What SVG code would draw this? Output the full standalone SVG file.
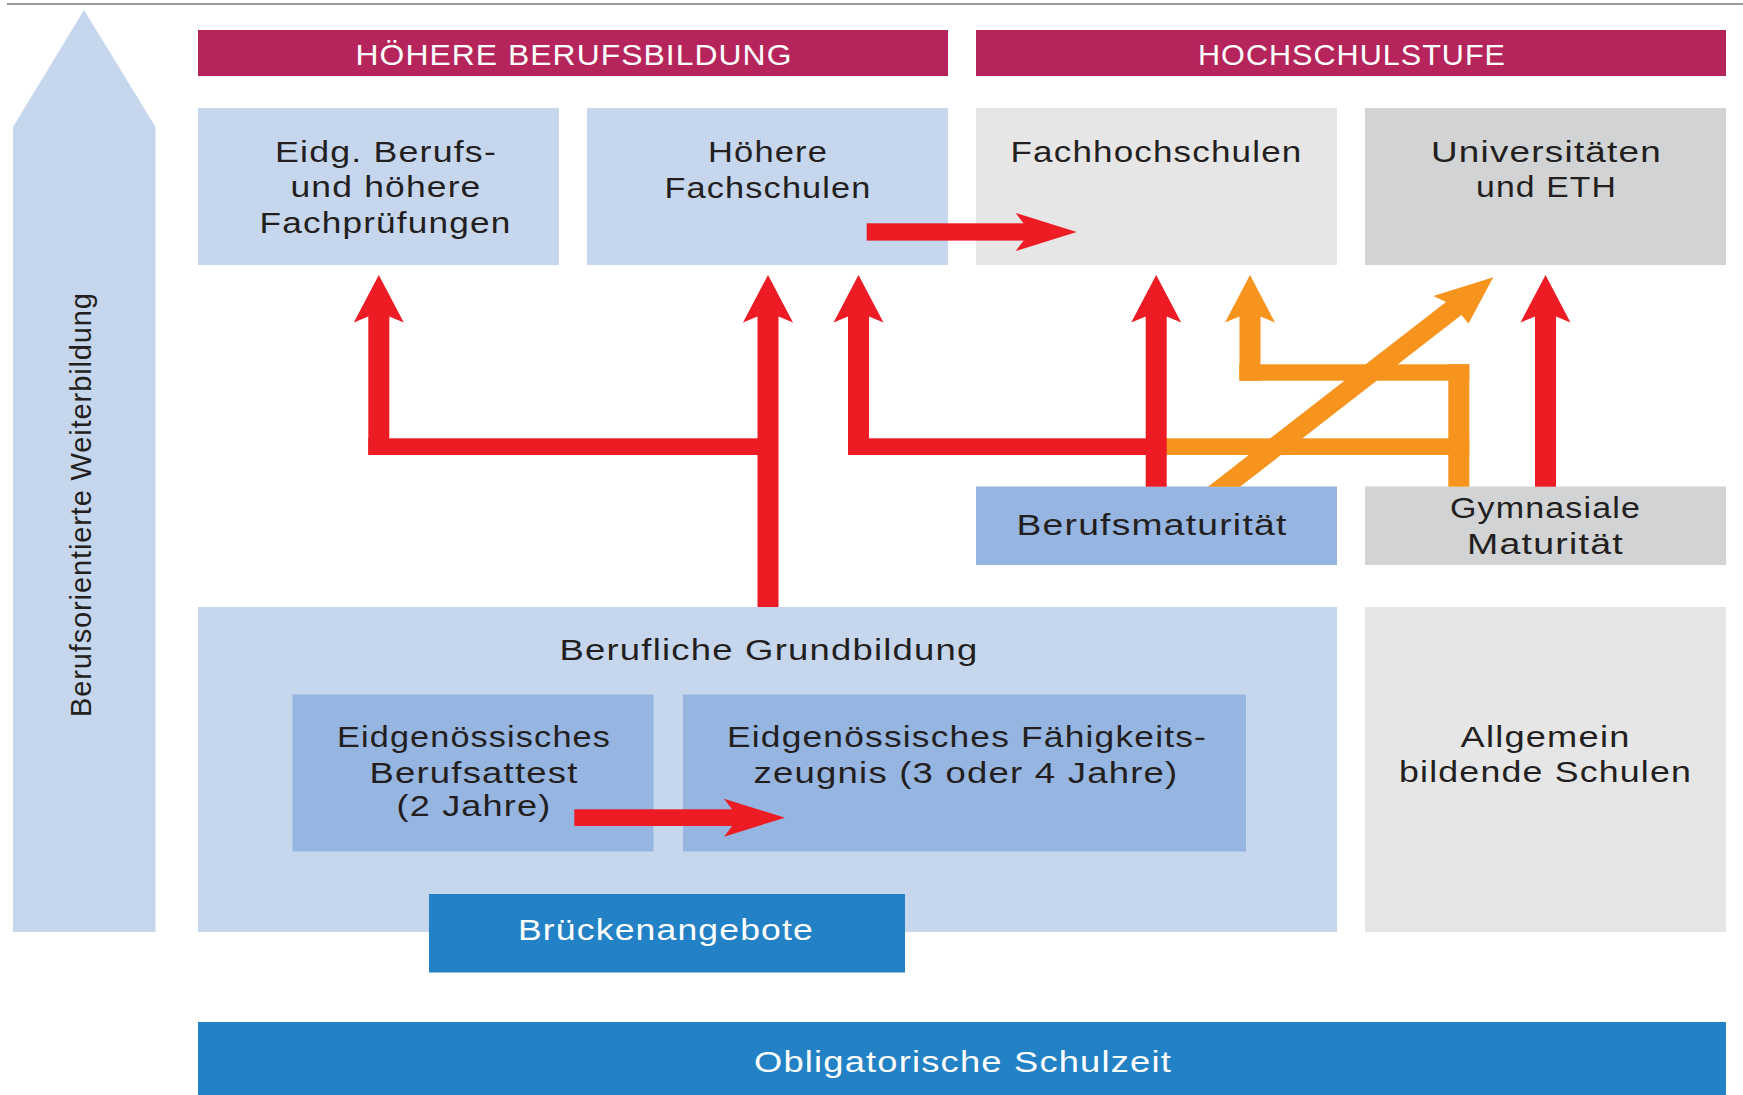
<svg xmlns="http://www.w3.org/2000/svg" xmlns:xlink="http://www.w3.org/1999/xlink" width="1743" height="1095" viewBox="0 0 1743 1095">
<style>
  .t { font-family: "Liberation Sans", Arial, sans-serif; font-size: 30px; fill: #231F20; text-anchor: middle; letter-spacing: 1px; }
  .w { fill: #FFFFFF; }
  .lb { fill: #C6D6EC; }
  .mb { fill: #96B5E0; }
  .db { fill: #2382C5; }
  .mg { fill: #B5255B; }
  .g1 { fill: #E6E6E7; }
  .g2 { fill: #D1D3D4; }
  .red { fill: #ED1C24; }
  .org { fill: #F7941E; }
</style>
<defs>
  <path id="hu" d="M0,0 L25,47.5 L10.5,41.5 L-10.5,41.5 L-25,47.5 Z"/>
  <path id="hr" d="M0,0 L-61,-19 L-53,-8.5 L-53,8.5 L-61,19 Z"/>
</defs>
<rect width="1743" height="1095" fill="#FFFFFF"/>
<line x1="7" y1="4" x2="1743" y2="4" stroke="#9A9A9A" stroke-width="2"/>

<g id="weiterbildung">
  <polygon class="lb" points="84,10 155.5,127 155.5,932 13,932 13,127"/>
  <text class="t" style="font-size:29px;letter-spacing:0" transform="translate(91,505) rotate(-90)" x="0" y="0" textLength="424" lengthAdjust="spacing">Berufsorientierte Weiterbildung</text>
</g>

<g id="hdr-hbb">
  <rect class="mg" x="198" y="30" width="750" height="46"/>
  <text class="t w" x="574" y="65" textLength="437" lengthAdjust="spacingAndGlyphs">HÖHERE BERUFSBILDUNG</text>
</g>
<g id="hdr-hs">
  <rect class="mg" x="976" y="30" width="750" height="46"/>
  <text class="t w" x="1352" y="65" textLength="308" lengthAdjust="spacingAndGlyphs">HOCHSCHULSTUFE</text>
</g>

<g id="pruefungen">
  <rect class="lb" x="198" y="108" width="361" height="157"/>
  <text class="t" x="386" y="162" textLength="222" lengthAdjust="spacingAndGlyphs">Eidg. Berufs-</text>
  <text class="t" x="386" y="197" textLength="191" lengthAdjust="spacingAndGlyphs">und höhere</text>
  <text class="t" x="385.5" y="233" textLength="252" lengthAdjust="spacingAndGlyphs">Fachprüfungen</text>
</g>
<g id="hoehere-fachschulen">
  <rect class="lb" x="587" y="108" width="361" height="157"/>
  <text class="t" x="768" y="162" textLength="120" lengthAdjust="spacingAndGlyphs">Höhere</text>
  <text class="t" x="768" y="198" textLength="207" lengthAdjust="spacingAndGlyphs">Fachschulen</text>
</g>
<g id="fachhochschulen">
  <rect class="g1" x="976" y="108" width="361" height="157"/>
  <text class="t" x="1156.5" y="162" textLength="292" lengthAdjust="spacingAndGlyphs">Fachhochschulen</text>
</g>
<g id="universitaeten">
  <rect class="g2" x="1365" y="108" width="361" height="157"/>
  <text class="t" x="1546.5" y="162" textLength="231" lengthAdjust="spacingAndGlyphs">Universitäten</text>
  <text class="t" x="1546.5" y="197" textLength="141" lengthAdjust="spacingAndGlyphs">und ETH</text>
</g>

<g id="berufsmaturitaet">
  <rect class="mb" x="976" y="486.5" width="361" height="78.5"/>
  <text class="t" x="1152" y="535" textLength="271" lengthAdjust="spacingAndGlyphs">Berufsmaturität</text>
</g>
<g id="gymnasiale-maturitaet">
  <rect class="g2" x="1365" y="486.5" width="361" height="78.5"/>
  <text class="t" x="1545.5" y="518" textLength="191" lengthAdjust="spacingAndGlyphs">Gymnasiale</text>
  <text class="t" x="1545.5" y="554" textLength="157" lengthAdjust="spacingAndGlyphs">Maturität</text>
</g>

<g id="grundbildung">
  <rect class="lb" x="198" y="607" width="1139" height="325"/>
  <text class="t" x="769" y="660" textLength="419" lengthAdjust="spacingAndGlyphs">Berufliche Grundbildung</text>
</g>
<g id="berufsattest">
  <rect class="mb" x="292.5" y="694.5" width="361" height="157"/>
  <text class="t" x="474" y="747" textLength="274" lengthAdjust="spacingAndGlyphs">Eidgenössisches</text>
  <text class="t" x="474" y="782.5" textLength="209" lengthAdjust="spacingAndGlyphs">Berufsattest</text>
  <text class="t" x="474" y="816" textLength="155" lengthAdjust="spacingAndGlyphs">(2 Jahre)</text>
</g>
<g id="faehigkeitszeugnis">
  <rect class="mb" x="683" y="694.5" width="563" height="157"/>
  <text class="t" x="967" y="747" textLength="480" lengthAdjust="spacingAndGlyphs">Eidgenössisches Fähigkeits-</text>
  <text class="t" x="966" y="782.5" textLength="425" lengthAdjust="spacingAndGlyphs">zeugnis (3 oder 4 Jahre)</text>
</g>
<g id="allgemeinbildende">
  <rect class="g1" x="1365" y="607" width="361" height="325"/>
  <text class="t" x="1545.5" y="747" textLength="170" lengthAdjust="spacingAndGlyphs">Allgemein</text>
  <text class="t" x="1545.5" y="782" textLength="293" lengthAdjust="spacingAndGlyphs">bildende Schulen</text>
</g>
<g id="brueckenangebote">
  <rect class="db" x="429" y="894" width="476" height="78.5"/>
  <text class="t w" x="666" y="940" textLength="296" lengthAdjust="spacingAndGlyphs">Brückenangebote</text>
</g>
<g id="obligatorische">
  <rect class="db" x="198" y="1022" width="1528" height="73"/>
  <text class="t w" x="963" y="1072" textLength="418" lengthAdjust="spacingAndGlyphs">Obligatorische Schulzeit</text>
</g>

<g id="connectors">
  <!-- Grundbildung trunk to Höhere Fachschulen, branch to Prüfungen -->
  <g class="red">
    <rect x="757.5" y="316" width="21" height="291"/>
    <use xlink:href="#hu" href="#hu" x="768" y="275"/>
    <rect x="368.3" y="438.3" width="400" height="16.7"/>
    <rect x="368.3" y="316" width="21" height="139"/>
    <use xlink:href="#hu" href="#hu" x="378.8" y="275"/>
  </g>
  <!-- orange paths from Gymnasiale Maturität -->
  <g class="org">
    <rect x="1156" y="438.3" width="313.3" height="16.7"/>
    <rect x="1448.3" y="364.3" width="21" height="122.4"/>
    <rect x="1239.3" y="364.3" width="230" height="16.4"/>
    <rect x="1239.5" y="316" width="21" height="64.7"/>
    <use xlink:href="#hu" href="#hu" x="1250" y="275"/>
    <polygon points="1208,486.7 1240,486.7 1461.4,315 1468.5,323.5 1493.3,277.3 1433.3,296 1446,302"/>
  </g>
  <!-- Berufsmaturität to Fachhochschulen and Höhere Fachschulen -->
  <g class="red">
    <rect x="848" y="316" width="21" height="139"/>
    <rect x="848" y="438.3" width="308" height="16.7"/>
    <use xlink:href="#hu" href="#hu" x="858.5" y="275"/>
    <rect x="1145.7" y="316" width="21" height="170.7"/>
    <use xlink:href="#hu" href="#hu" x="1156.2" y="275"/>
  </g>
  <!-- Gymnasiale Maturität to Universitäten -->
  <g class="red">
    <rect x="1535" y="316" width="21" height="170.7"/>
    <use xlink:href="#hu" href="#hu" x="1545.5" y="275"/>
  </g>
  <!-- Höhere Fachschulen to Fachhochschulen -->
  <g class="red">
    <rect x="866.7" y="223.3" width="158" height="17.3"/>
    <use xlink:href="#hr" href="#hr" x="1076.7" y="232"/>
  </g>
  <!-- Berufsattest to Fähigkeitszeugnis -->
  <g class="red">
    <rect x="574.3" y="809.3" width="158" height="16.7"/>
    <use xlink:href="#hr" href="#hr" x="785" y="817.7"/>
  </g>
</g>
</svg>
